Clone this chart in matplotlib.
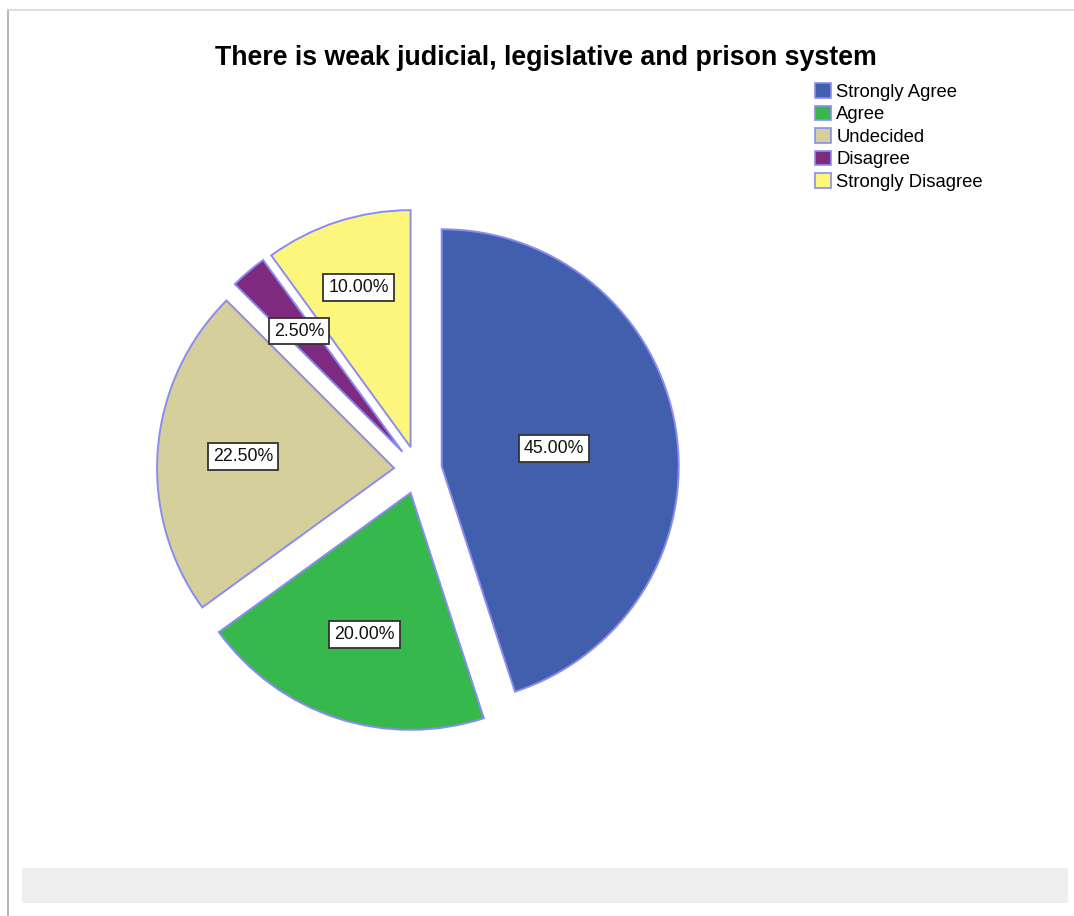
import numpy as np
import matplotlib.pyplot as plt
from matplotlib.patches import Rectangle, Patch

plt.rcParams['font.family'] = ['Liberation Sans', 'DejaVu Sans']

# Responses to the statement, percentages
categories = ["Strongly Agree", "Agree", "Undecided", "Disagree", "Strongly Disagree"]
percentages = [45.0, 20.0, 22.5, 2.5, 10.0]
colors = ["#425fae", "#37b84c", "#d5cf9c", "#7e2a7e", "#fcf77c"]

W, H = 1074, 916
fig = plt.figure(figsize=(W / 100, H / 100), dpi=100)
ax = fig.add_axes([0, 0, 1, 1])

# pie drawn in pixel units so it can be positioned precisely
cx, cy, r = 418, H - 470, 237
wedges, _ = ax.pie(percentages, colors=colors, startangle=90, counterclock=False,
                   center=(cx, cy), radius=r, explode=[24] * len(percentages),
                   wedgeprops=dict(edgecolor="#8a8cf0", linewidth=1.4))

# percentage labels in white boxes
label_dist = [0.48, 0.63, 0.64, 0.67, 0.71]
for w, pct, d in zip(wedges, percentages, label_dist):
    mid = np.deg2rad((w.theta1 + w.theta2) / 2)
    x0, y0 = w.center
    ax.text(x0 + d * r * np.cos(mid), y0 + d * r * np.sin(mid), f"{pct:.2f}%",
            ha="center", va="center", fontsize=12.8, color="#111111",
            bbox=dict(boxstyle="square,pad=0.28", facecolor="white",
                      edgecolor="#333333", linewidth=1.3))

ax.set_xlim(0, W)
ax.set_ylim(0, H)
ax.set_aspect("equal")
ax.axis("off")

# frame lines and grey footer strip
ax.plot([8, 8], [0, H - 10], color="#a8a8a8", lw=1.2)
ax.plot([8, W], [H - 10, H - 10], color="#d8d8d8", lw=1.2)
ax.add_patch(Rectangle((22, H - 903), 1046, 35, facecolor="#eeeeee", edgecolor="none"))

ax.text(546, H - 58, "There is weak judicial, legislative and prison system",
        ha="center", va="center", fontsize=19.3, fontweight="bold")

handles = [Patch(facecolor=c, edgecolor="#8a8cf0", linewidth=1.2) for c in colors]
ax.legend(handles, categories, loc="upper left", bbox_to_anchor=(815 / W, 1 - 83 / H),
          frameon=False, fontsize=13.3, handlelength=0.85, handleheight=0.85,
          handletextpad=0.3, labelspacing=0.26, borderpad=0, borderaxespad=0)

fig.savefig("out.png", dpi=100)
